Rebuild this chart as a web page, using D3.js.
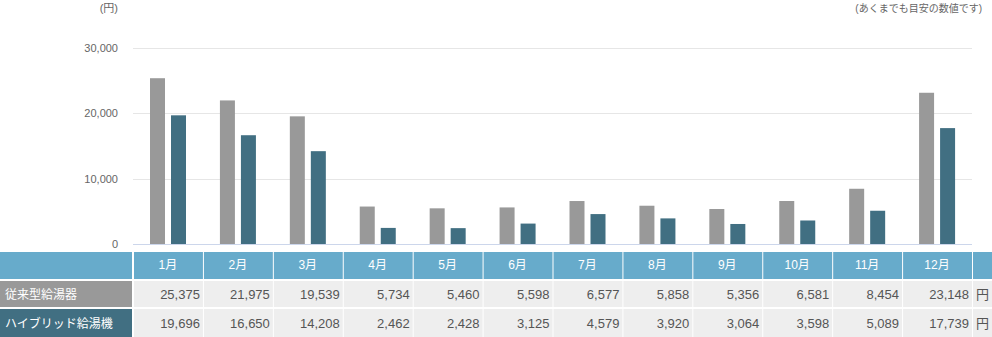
<!DOCTYPE html>
<html><head><meta charset="utf-8">
<script src="https://cdn.jsdelivr.net/npm/d3@7/dist/d3.min.js"></script>
<style>
html,body{margin:0;padding:0;background:#fff;}
svg{display:block;font-family:"Liberation Sans",Arial,"Noto Sans CJK JP",sans-serif;}
</style></head>
<body><svg id="c" width="992" height="337"></svg>
<script>
const months = ["1月","2月","3月","4月","5月","6月","7月","8月","9月","10月","11月","12月"];
const seriesNames = ["従来型給湯器","ハイブリッド給湯機"];
const conventional = [25375,21975,19539,5734,5460,5598,6577,5858,5356,6581,8454,23148];
const hybrid = [19696,16650,14208,2462,2428,3125,4579,3920,3064,3598,5089,17739];
const yTicks = [0,10000,20000,30000];
const unitLabel = "(円)";
const noteLabel = "(あくまでも目安の数値です)";
const rowUnit = "円";
const colors = ["#999999","#416f82"];
const labelBg = ["#999999","#416f82"];

const svg = d3.select("#c");
const fmt = d3.format(",");
const x = d3.scaleBand().domain(months).range([133,972]);
const x1 = d3.scaleBand().domain(seriesNames).range([17,53]).paddingInner(0.286);
const y = d3.scaleLinear().domain([0,30000]).range([244,48]);

// gridlines
svg.append("g").selectAll("line").data(yTicks.filter(d=>d>0)).join("line")
  .attr("x1",133).attr("x2",972).attr("y1",d=>Math.round(y(d))+0.5).attr("y2",d=>Math.round(y(d))+0.5)
  .attr("stroke","#e6e6e6");
// y labels
svg.append("g").selectAll("text").data(yTicks).join("text")
  .attr("x",118).attr("y",d=>y(d)+4).attr("text-anchor","end")
  .attr("font-size",11).attr("fill","#666").text(d=>fmt(d));
svg.append("text").attr("x",118).attr("y",12).attr("text-anchor","end").attr("font-size",11).attr("fill","#666").text(unitLabel);
svg.append("text").attr("x",982).attr("y",12).attr("text-anchor","end").attr("font-size",10).attr("fill","#666").text(noteLabel);

// bars
const data = [conventional, hybrid];
seriesNames.forEach((s,i)=>{
  svg.append("g").selectAll("rect").data(data[i]).join("rect")
    .attr("x",(d,j)=>x(months[j])+x1(s)).attr("width",x1.bandwidth())
    .attr("y",d=>y(d)).attr("height",d=>y(0)-y(d)).attr("fill",colors[i]);
});
// axis line
svg.append("line").attr("x1",133).attr("x2",972).attr("y1",244.5).attr("y2",244.5).attr("stroke","#ccd6eb");

// table
const rows = [{y0:252,h:27},{y0:281,h:26},{y0:309,h:28}];
svg.append("rect").attr("x",0).attr("y",rows[0].y0).attr("width",132).attr("height",rows[0].h).attr("fill","#67abcb");
svg.append("g").selectAll("rect").data(months).join("rect")
  .attr("x",d=>x(d)+1).attr("width",x.bandwidth()-1).attr("y",rows[0].y0).attr("height",rows[0].h).attr("fill","#67abcb");
svg.append("rect").attr("x",973).attr("y",rows[0].y0).attr("width",19).attr("height",rows[0].h).attr("fill","#67abcb");
svg.append("g").selectAll("text").data(months).join("text")
  .attr("x",d=>x(d)+x.bandwidth()/2).attr("y",rows[0].y0+17).attr("text-anchor","middle")
  .attr("font-size",12).attr("fill","#fff").text(d=>d);

seriesNames.forEach((s,i)=>{
  const r = rows[i+1];
  svg.append("rect").attr("x",0).attr("y",r.y0).attr("width",132).attr("height",r.h).attr("fill",labelBg[i]);
  svg.append("text").attr("x",5).attr("y",r.y0+r.h/2+5).attr("font-size",12).attr("fill","#fff").text(s);
  svg.append("g").selectAll("rect").data(months).join("rect")
    .attr("x",d=>x(d)+1).attr("width",x.bandwidth()-1).attr("y",r.y0).attr("height",r.h).attr("fill","#eeeeee");
  svg.append("rect").attr("x",973).attr("y",r.y0).attr("width",19).attr("height",r.h).attr("fill","#eeeeee");
  svg.append("g").selectAll("text").data(data[i]).join("text")
    .attr("x",(d,j)=>x(months[j])+x.bandwidth()-3).attr("y",r.y0+r.h/2+5).attr("text-anchor","end")
    .attr("font-size",13).attr("fill","#555").text(d=>fmt(d));
  svg.append("text").attr("x",976).attr("y",r.y0+r.h/2+5).attr("font-size",13).attr("fill","#555").text(rowUnit);
});
</script></body></html>
